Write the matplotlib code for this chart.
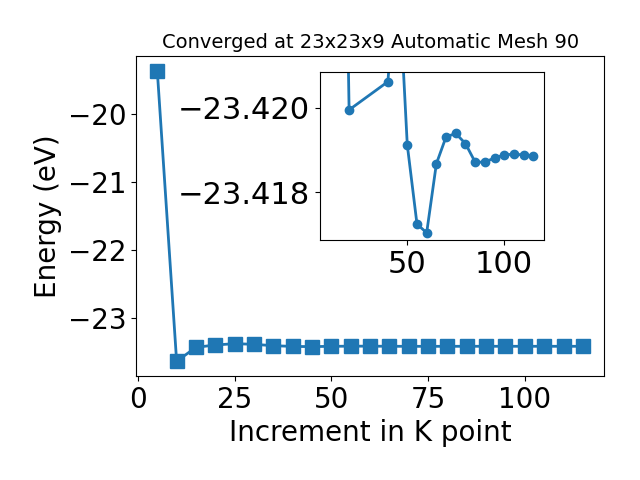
import matplotlib
matplotlib.use('Agg')
from matplotlib import pyplot as plt

# main convergence curve
k_points = [5, 10, 15, 20, 25, 30, 35, 40, 45, 50, 55, 60, 65, 70, 75, 80, 85, 90, 95, 100, 105, 110, 115]
energy = [-19.36, -23.64, -23.434, -23.40, -23.38, -23.39, -23.41, -23.4206, -23.4236, -23.4191,
          -23.4172, -23.4170, -23.4187, -23.4193, -23.4194, -23.4192, -23.4187, -23.4187,
          -23.4188, -23.4189, -23.4189, -23.4189, -23.4189]

# zoomed-in inset
inset_k = [15, 20, 40, 45, 50, 55, 60, 65, 70, 75, 80, 85, 90, 95, 100, 105, 110, 115]
inset_energy = [-23.434, -23.41995, -23.42062, -23.42357, -23.41912, -23.41724, -23.41703,
                -23.41867, -23.41931, -23.41939, -23.41915, -23.41871, -23.41871, -23.41881,
                -23.41888, -23.41890, -23.41888, -23.41886]


def main():
    fig, ax = plt.subplots(figsize=(6.4, 4.8), dpi=100)
    ax.plot(k_points, energy, marker='s', markersize=10, linewidth=2, color='#1f77b4')
    ax.set_title('Converged at 23x23x9 Automatic Mesh 90', fontsize=14)
    ax.set_xlabel('Increment in K point', fontsize=20)
    ax.set_ylabel('Energy (eV)', fontsize=20)
    ax.tick_params(labelsize=20)
    fig.subplots_adjust(left=0.2125, right=0.944, bottom=0.217, top=0.883)

    inset = fig.add_axes([0.5, 0.5, 0.35, 0.35])
    inset.plot(inset_k, inset_energy, marker='o', markersize=6, linewidth=2, color='#1f77b4')
    inset.set_xlim(5, 120.5)
    inset.set_ylim(-23.41686, -23.42085)
    inset.set_yticks([-23.420, -23.418])
    inset.set_xticks([50, 100])
    inset.tick_params(labelsize=22)

    fig.savefig('out.png')


if __name__ == '__main__':
    main()
